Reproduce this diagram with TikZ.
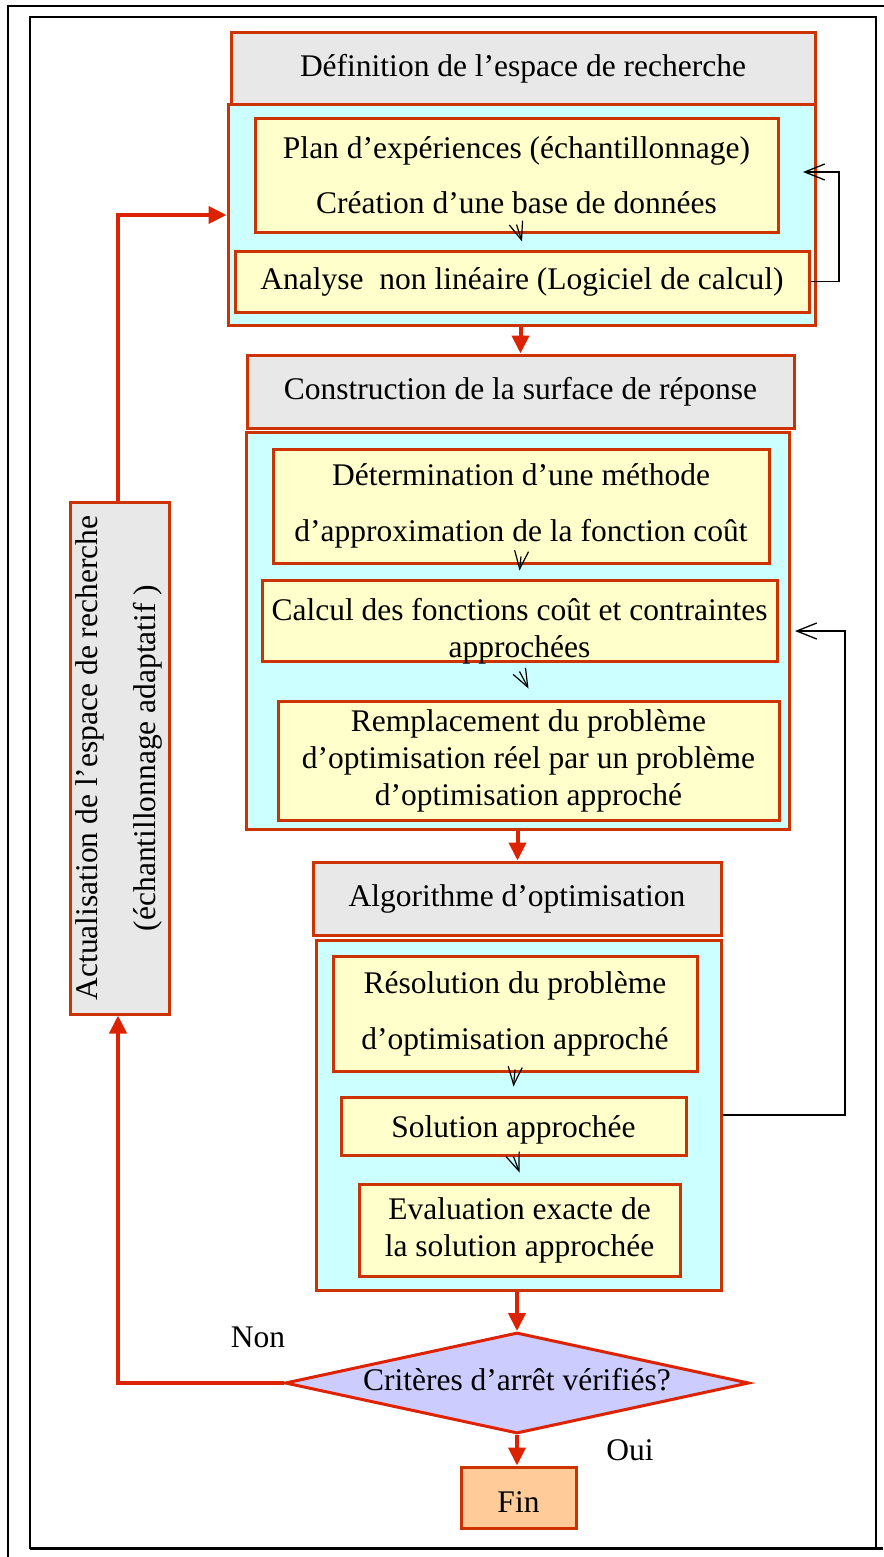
\documentclass[tikz,border=0pt]{standalone}
\usepackage{fontspec}
\setmainfont{Liberation Serif}
\usetikzlibrary{arrows.meta,shapes.geometric}
\definecolor{bord}{HTML}{CC3300}
\definecolor{arr}{HTML}{DD2200}
\definecolor{grayfill}{HTML}{E8E8E8}
\definecolor{cyanfill}{HTML}{CCFFFF}
\definecolor{yelfill}{HTML}{FFFFCC}
\definecolor{lavfill}{HTML}{CCCCFF}
\definecolor{peachfill}{HTML}{FFCC99}
\newcommand\fs{\fontsize{31.5}{37}\selectfont}
\begin{document}
\begin{tikzpicture}[x=1pt,y=-1pt,
  box/.style={draw=bord, line width=3pt, inner sep=0pt, align=center, font=\fs},
  graybox/.style={box, fill=grayfill},
  cyanbox/.style={box, fill=cyanfill},
  yelbox/.style={box, fill=yelfill},
  rarr/.style={draw=arr, line width=4pt, -{Triangle[length=18pt,width=17pt]}},
  rline/.style={draw=arr, line width=4pt},
  smallarr/.style={draw=black, line width=1.2pt, -{Straight Barb[length=18pt,width=14pt]}},
  fbarr/.style={draw=black, line width=1.3pt, -{Straight Barb[length=20pt,width=16pt]}},
  lbl/.style={inner sep=0pt, font=\fs}]
\useasboundingbox (0,0) rectangle (883,1557);
\fill[white] (0,0) rectangle (883,1557);
% frames
\draw[line width=2pt] (8,6) rectangle (900,1575);
\draw[line width=2pt] (30,17) rectangle (876,1548);
\draw[line width=3pt] (30,1548.5) -- (883,1548.5);

% block 1
\node[graybox, minimum width=584pt, minimum height=72pt] (g1) at (523,69) {Définition de l’espace de recherche};
\node[cyanbox, minimum width=587pt, minimum height=220pt] (c1) at (521.5,215) {};
\node[yelbox, minimum width=523pt, minimum height=113pt] (plan) at (516.5,175.5) {Plan d’expériences (échantillonnage)\\[18pt]Création d’une base de données};
\node[yelbox, minimum width=574pt, minimum height=61pt] (ana) at (522,281.5) {Analyse\ \ non linéaire (Logiciel de calcul)};

% block 2
\node[graybox, minimum width=547pt, minimum height=73pt] (g2) at (520.5,391.5) {Construction de la surface de réponse};
\node[cyanbox, minimum width=543pt, minimum height=397pt] (c2) at (517.5,630.5) {};
\node[yelbox, minimum width=496pt, minimum height=114pt] (det) at (521,506) {Détermination d’une méthode\\[19pt]d’approximation de la fonction coût};
\node[yelbox, minimum width=515pt, minimum height=81pt, text height=10pt, text depth=10pt] (calc) at (519.5,620.5) {\begin{tabular}[t]{@{}c@{}}Calcul des fonctions coût et contraintes\\approchées\end{tabular}};
\node[yelbox, minimum width=501pt, minimum height=119pt] (rem) at (528.5,760.5) {Remplacement du problème\\d’optimisation réel par un problème\\d’optimisation approché};

% block 3
\node[graybox, minimum width=408pt, minimum height=73pt] (g3) at (517,898.5) {Algorithme d’optimisation};
\node[cyanbox, minimum width=405pt, minimum height=350pt] (c3) at (518.5,1115) {};
\node[yelbox, minimum width=364pt, minimum height=115pt] (res) at (515,1013.5) {Résolution du problème\\[19pt]d’optimisation approché};
\node[yelbox, minimum width=345pt, minimum height=58pt, text height=22pt, text depth=0pt] (sol) at (513.5,1126) {Solution approchée};
\node[yelbox, minimum width=321pt, minimum height=92pt] (eval) at (519.5,1230) {Evaluation exacte de\\la solution approchée};

% decision
\node[diamond, draw=arr, line width=3pt, fill=lavfill, inner sep=0pt, aspect=4.6,
      minimum width=464pt, minimum height=101pt, font=\fs, text height=20pt, text depth=5pt] (dec) at (517,1383) {Critères d’arrêt vérifiés?};
\node[box, fill=peachfill, minimum width=115pt, minimum height=61pt, text height=30pt, text depth=0pt] (fin) at (518.5,1497.5) {Fin};

% update box
\node[graybox, minimum width=99pt, minimum height=512pt] (act) at (119.5,758) {\rotatebox{90}{\begin{tabular}{@{}c@{}}Actualisation de l’espace de recherche\\[21pt](échantillonnage adaptatif )\end{tabular}}};

\node[lbl] (non) at (258,1337) {Non};
\node[lbl] (oui) at (630,1450) {Oui};

% small arrows
\draw[smallarr] ([yshift=9pt]plan.south) -- ([yshift=8pt]ana.north);
\draw[smallarr] ([yshift=8pt]det.south) -- ([yshift=8pt]calc.north);
\draw[smallarr] ([yshift=-9pt]calc.south) -- ([yshift=11pt]rem.north);
\draw[smallarr] ([yshift=3pt]res.south) -- ([yshift=9pt]sol.north);
\draw[smallarr] (sol.south) -- ([yshift=10pt]eval.north);

% feedback arrows
\coordinate (fb1c) at (839,172);
\coordinate (fb1t) at (803,172);
\draw[fbarr] (ana.east) -| (fb1c) -- (fb1t);
\coordinate (fb2c) at (845,631);
\coordinate (fb2t) at (795,631);
\draw[fbarr] (c3.east) -| (fb2c) -- (fb2t);

% red flow arrows
\draw[rarr] (c1.south -| g2.north) -- (g2.north);
\draw[rarr] (c2.south) -- (c2.south |- g3.north);
\draw[rarr] (c3.south -| dec.north) -- (dec.north);
\draw[rarr] (dec.south) -- (dec.south |- fin.north);
\draw[rarr] (dec.west) -| ([xshift=-1.5pt]act.south);
\draw[rarr] ([xshift=-1.5pt]act.north) |- (c1.west);
\end{tikzpicture}
\end{document}
